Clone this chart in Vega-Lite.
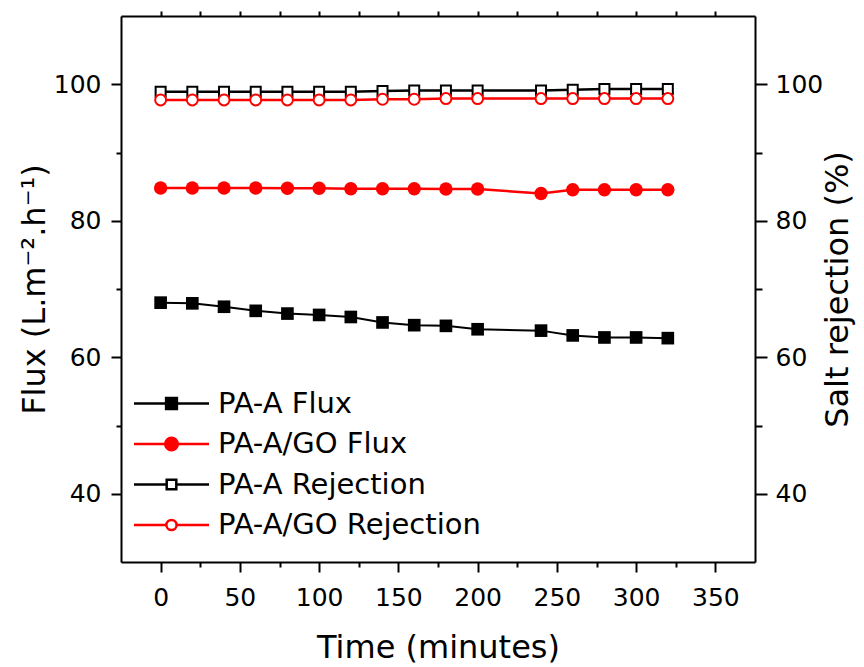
{
  "$schema": "https://vega.github.io/schema/vega-lite/v6.json",
  "width": 634,
  "height": 546,
  "autosize": "none",
  "padding": {"left": 121, "top": 16, "right": 109, "bottom": 105},
  "background": "white",
  "config": {
    "view": {"stroke": null},
    "axis": {
      "grid": false,
      "domainColor": "black",
      "domainWidth": 2,
      "tickColor": "black",
      "tickWidth": 2,
      "labelColor": "black",
      "titleColor": "black",
      "labelFont": "DejaVu Sans",
      "titleFont": "DejaVu Sans",
      "labelFontSize": 25,
      "titleFontSize": 32,
      "titleFontWeight": "normal"
    }
  },
  "data": {
    "values": [
      {"time": 0, "series": "PA-A Flux", "value": 68.0},
      {"time": 20, "series": "PA-A Flux", "value": 67.9},
      {"time": 40, "series": "PA-A Flux", "value": 67.4},
      {"time": 60, "series": "PA-A Flux", "value": 66.8},
      {"time": 80, "series": "PA-A Flux", "value": 66.4},
      {"time": 100, "series": "PA-A Flux", "value": 66.2},
      {"time": 120, "series": "PA-A Flux", "value": 65.9},
      {"time": 140, "series": "PA-A Flux", "value": 65.1},
      {"time": 160, "series": "PA-A Flux", "value": 64.7},
      {"time": 180, "series": "PA-A Flux", "value": 64.6},
      {"time": 200, "series": "PA-A Flux", "value": 64.1},
      {"time": 240, "series": "PA-A Flux", "value": 63.9},
      {"time": 260, "series": "PA-A Flux", "value": 63.2},
      {"time": 280, "series": "PA-A Flux", "value": 62.9},
      {"time": 300, "series": "PA-A Flux", "value": 62.9},
      {"time": 320, "series": "PA-A Flux", "value": 62.8},
      {"time": 0, "series": "PA-A/GO Flux", "value": 84.8},
      {"time": 20, "series": "PA-A/GO Flux", "value": 84.8},
      {"time": 40, "series": "PA-A/GO Flux", "value": 84.8},
      {"time": 60, "series": "PA-A/GO Flux", "value": 84.8},
      {"time": 80, "series": "PA-A/GO Flux", "value": 84.75},
      {"time": 100, "series": "PA-A/GO Flux", "value": 84.75},
      {"time": 120, "series": "PA-A/GO Flux", "value": 84.7},
      {"time": 140, "series": "PA-A/GO Flux", "value": 84.7},
      {"time": 160, "series": "PA-A/GO Flux", "value": 84.7},
      {"time": 180, "series": "PA-A/GO Flux", "value": 84.65},
      {"time": 200, "series": "PA-A/GO Flux", "value": 84.65},
      {"time": 240, "series": "PA-A/GO Flux", "value": 84.0},
      {"time": 260, "series": "PA-A/GO Flux", "value": 84.55},
      {"time": 280, "series": "PA-A/GO Flux", "value": 84.55},
      {"time": 300, "series": "PA-A/GO Flux", "value": 84.55},
      {"time": 320, "series": "PA-A/GO Flux", "value": 84.55},
      {"time": 0, "series": "PA-A Rejection", "value": 98.9},
      {"time": 20, "series": "PA-A Rejection", "value": 98.9},
      {"time": 40, "series": "PA-A Rejection", "value": 98.9},
      {"time": 60, "series": "PA-A Rejection", "value": 98.9},
      {"time": 80, "series": "PA-A Rejection", "value": 98.9},
      {"time": 100, "series": "PA-A Rejection", "value": 98.9},
      {"time": 120, "series": "PA-A Rejection", "value": 98.9},
      {"time": 140, "series": "PA-A Rejection", "value": 99.0},
      {"time": 160, "series": "PA-A Rejection", "value": 99.1},
      {"time": 180, "series": "PA-A Rejection", "value": 99.1},
      {"time": 200, "series": "PA-A Rejection", "value": 99.1},
      {"time": 240, "series": "PA-A Rejection", "value": 99.1},
      {"time": 260, "series": "PA-A Rejection", "value": 99.2},
      {"time": 280, "series": "PA-A Rejection", "value": 99.3},
      {"time": 300, "series": "PA-A Rejection", "value": 99.3},
      {"time": 320, "series": "PA-A Rejection", "value": 99.3},
      {"time": 0, "series": "PA-A/GO Rejection", "value": 97.7},
      {"time": 20, "series": "PA-A/GO Rejection", "value": 97.7},
      {"time": 40, "series": "PA-A/GO Rejection", "value": 97.7},
      {"time": 60, "series": "PA-A/GO Rejection", "value": 97.7},
      {"time": 80, "series": "PA-A/GO Rejection", "value": 97.7},
      {"time": 100, "series": "PA-A/GO Rejection", "value": 97.7},
      {"time": 120, "series": "PA-A/GO Rejection", "value": 97.7},
      {"time": 140, "series": "PA-A/GO Rejection", "value": 97.8},
      {"time": 160, "series": "PA-A/GO Rejection", "value": 97.8},
      {"time": 180, "series": "PA-A/GO Rejection", "value": 97.9},
      {"time": 200, "series": "PA-A/GO Rejection", "value": 97.9},
      {"time": 240, "series": "PA-A/GO Rejection", "value": 97.9},
      {"time": 260, "series": "PA-A/GO Rejection", "value": 97.9},
      {"time": 280, "series": "PA-A/GO Rejection", "value": 97.9},
      {"time": 300, "series": "PA-A/GO Rejection", "value": 97.9},
      {"time": 320, "series": "PA-A/GO Rejection", "value": 97.9}
    ]
  },
  "resolve": {
    "scale": {"x": "independent", "y": "independent"},
    "axis": {"x": "independent", "y": "independent"}
  },
  "layer": [
    {
      "encoding": {
        "x": {
          "field": "time", "type": "quantitative",
          "scale": {"domain": [-25, 375], "nice": false, "zero": false},
          "axis": {
            "orient": "bottom",
            "values": [0, 25, 50, 75, 100, 125, 150, 175, 200, 225, 250, 275, 300, 325, 350],
            "labelExpr": "datum.value % 50 === 0 ? datum.label : ''",
            "tickSize": {"condition": {"test": "datum.value % 50 === 0", "value": 10}, "value": 5},
            "labelPadding": 13,
            "title": "Time (minutes)",
            "titlePadding": 22
          }
        },
        "y": {
          "field": "value", "type": "quantitative",
          "scale": {"domain": [30, 110], "nice": false, "zero": false},
          "axis": {
            "orient": "left",
            "values": [40, 50, 60, 70, 80, 90, 100],
            "labelExpr": "datum.value % 20 === 0 ? datum.label : ''",
            "tickSize": {"condition": {"test": "datum.value % 20 === 0", "value": 10}, "value": 5},
            "labelPadding": 10,
            "title": "Flux (L.m⁻².h⁻¹)",
            "titlePadding": 2
          }
        }
      },
      "layer": [
        {
          "transform": [{"filter": "datum.series === 'PA-A Flux'"}],
          "mark": {"type": "line", "color": "black", "strokeWidth": 2}
        },
        {
          "transform": [{"filter": "datum.series === 'PA-A Flux'"}],
          "mark": {"type": "point", "shape": "square", "filled": true, "color": "black", "size": 160, "opacity": 1}
        },
        {
          "transform": [{"filter": "datum.series === 'PA-A/GO Flux'"}],
          "mark": {"type": "line", "color": "red", "strokeWidth": 2.5}
        },
        {
          "transform": [{"filter": "datum.series === 'PA-A/GO Flux'"}],
          "mark": {"type": "point", "shape": "circle", "filled": true, "color": "red", "size": 180, "opacity": 1}
        },
        {
          "mark": {"type": "point", "opacity": 0, "strokeWidth": 2.5},
          "encoding": {
            "shape": {
              "field": "series", "type": "nominal",
              "scale": {
                "domain": ["PA-A Flux", "PA-A/GO Flux", "PA-A Rejection", "PA-A/GO Rejection"],
                "range": [
                  "M-6.25,0H-0.9M0.9,0H6.25M-0.9,-0.9H0.9V0.9H-0.9Z",
                  "M-6.25,0H-1.05M1.05,0H6.25M-1.05,0A1.05,1.05 0 1,0 1.05,0A1.05,1.05 0 1,0 -1.05,0Z",
                  "M-6.25,0H-0.8M0.8,0H6.25M-0.8,-0.8H0.8V0.8H-0.8Z",
                  "M-6.25,0H-0.85M0.85,0H6.25M-0.85,0A0.85,0.85 0 1,0 0.85,0A0.85,0.85 0 1,0 -0.85,0Z"
                ]
              },
              "legend": {
                "title": null, "orient": "none", "legendX": 36, "legendY": 373, "padding": 0,
                "symbolSize": 144, "symbolStrokeWidth": 2.5, "symbolOpacity": 1,
                "labelOffset": 32, "rowPadding": 10.5, "labelFont": "DejaVu Sans", "labelFontSize": 29, "labelColor": "black", "labelLimit": 0
              }
            },
            "fill": {
              "field": "series", "type": "nominal",
              "scale": {
                "domain": ["PA-A Flux", "PA-A/GO Flux", "PA-A Rejection", "PA-A/GO Rejection"],
                "range": ["black", "red", "white", "white"]
              },
              "legend": {
                "title": null, "orient": "none", "legendX": 36, "legendY": 373, "padding": 0,
                "symbolSize": 144, "symbolStrokeWidth": 2.5, "symbolOpacity": 1,
                "labelOffset": 32, "rowPadding": 10.5, "labelFont": "DejaVu Sans", "labelFontSize": 29, "labelColor": "black", "labelLimit": 0
              }
            },
            "stroke": {
              "field": "series", "type": "nominal",
              "scale": {
                "domain": ["PA-A Flux", "PA-A/GO Flux", "PA-A Rejection", "PA-A/GO Rejection"],
                "range": ["black", "red", "black", "red"]
              },
              "legend": {
                "title": null, "orient": "none", "legendX": 36, "legendY": 373, "padding": 0,
                "symbolSize": 144, "symbolStrokeWidth": 2.5, "symbolOpacity": 1,
                "labelOffset": 32, "rowPadding": 10.5, "labelFont": "DejaVu Sans", "labelFontSize": 29, "labelColor": "black", "labelLimit": 0
              }
            }
          }
        }
      ]
    },
    {
      "encoding": {
        "x": {
          "field": "time", "type": "quantitative",
          "scale": {"domain": [-25, 375], "nice": false, "zero": false},
          "axis": {
            "orient": "top",
            "values": [0, 25, 50, 75, 100, 125, 150, 175, 200, 225, 250, 275, 300, 325, 350],
            "labels": false,
            "tickSize": 5,
            "title": null
          }
        },
        "y": {
          "field": "value", "type": "quantitative",
          "scale": {"domain": [30, 110], "nice": false, "zero": false},
          "axis": {
            "orient": "right",
            "values": [40, 50, 60, 70, 80, 90, 100],
            "labelExpr": "datum.value % 20 === 0 ? datum.label : ''",
            "tickSize": {"condition": {"test": "datum.value % 20 === 0", "value": 12}, "value": 7},
            "labelPadding": 8,
            "title": "Salt rejection (%)",
            "titleAngle": 270,
            "titlePadding": 32
          }
        }
      },
      "layer": [
        {
          "transform": [{"filter": "datum.series === 'PA-A Rejection'"}],
          "mark": {"type": "line", "color": "black", "strokeWidth": 2.5}
        },
        {
          "transform": [{"filter": "datum.series === 'PA-A Rejection'"}],
          "mark": {"type": "point", "shape": "square", "filled": true, "fill": "white", "stroke": "black", "strokeWidth": 2, "size": 100, "opacity": 1}
        },
        {
          "transform": [{"filter": "datum.series === 'PA-A/GO Rejection'"}],
          "mark": {"type": "line", "color": "red", "strokeWidth": 2.5}
        },
        {
          "transform": [{"filter": "datum.series === 'PA-A/GO Rejection'"}],
          "mark": {"type": "point", "shape": "circle", "filled": true, "fill": "white", "stroke": "red", "strokeWidth": 2, "size": 120, "opacity": 1}
        }
      ]
    }
  ]
}
